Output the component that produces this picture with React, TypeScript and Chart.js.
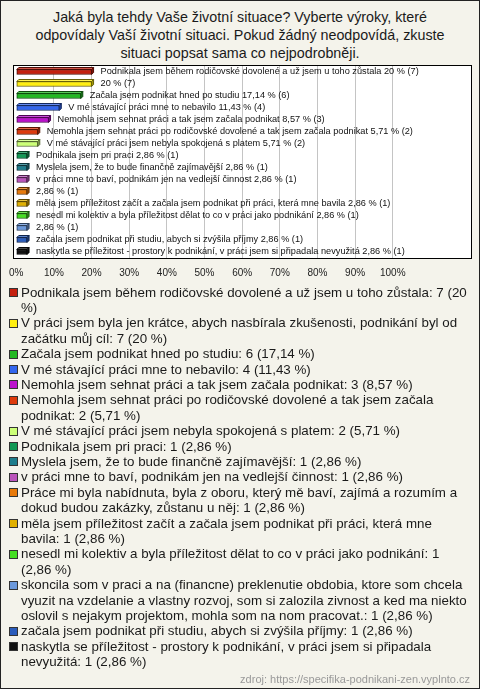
import React, { useEffect, useRef } from 'react';
import { Chart, registerables } from 'chart.js';

Chart.register(...registerables);

const titleLines = [
  'Jaká byla tehdy Vaše životní situace? Vyberte výroky, které',
  'odpovídaly Vaší životní situaci. Pokud žádný neodpovídá, zkuste',
  'situaci popsat sama co nejpodrobněji.',
];

const categories = [
  'Podnikala jsem během rodičovské dovolené a už jsem u toho zůstala',
  'V práci jsem byla jen krátce, abych nasbírala zkušenosti, podnikání byl od začátku můj cíl',
  'Začala jsem podnikat hned po studiu',
  'V mé stávající práci mne to nebavilo',
  'Nemohla jsem sehnat práci a tak jsem začala podnikat',
  'Nemohla jsem sehnat práci po rodičovské dovolené a tak jsem začala podnikat',
  'V mé stávající práci jsem nebyla spokojená s platem',
  'Podnikala jsem pri praci',
  'Myslela jsem, že to bude finančně zajímavější',
  'v práci mne to baví, podnikám jen na vedlejší činnost',
  'Práce mi byla nabídnuta, byla z oboru, který mě baví, zajímá a rozumím a dokud budou zakázky, zůstanu u něj',
  'měla jsem příležitost začít a začala jsem podnikat při práci, která mne bavila',
  'nesedl mi kolektiv a byla příležitost dělat to co v práci jako podnikání',
  'skoncila som v praci a na (financne) preklenutie obdobia, ktore som chcela vyuzit na vzdelanie a vlastny rozvoj, som si zalozila zivnost a ked ma niekto oslovil s nejakym projektom, mohla som na nom pracovat.',
  'začala jsem podnikat při studiu, abych si zvýšila příjmy',
  'naskytla se příležitost - prostory k podnikání, v práci jsem si připadala nevyužitá',
];

// names printed next to the bars (long ones are omitted in the original)
const barNames = [
  'Podnikala jsem během rodičovské dovolené a už jsem u toho zůstala',
  '',
  'Začala jsem podnikat hned po studiu',
  'V mé stávající práci mne to nebavilo',
  'Nemohla jsem sehnat práci a tak jsem začala podnikat',
  'Nemohla jsem sehnat práci po rodičovské dovolené a tak jsem začala podnikat',
  'V mé stávající práci jsem nebyla spokojená s platem',
  'Podnikala jsem pri praci',
  'Myslela jsem, že to bude finančně zajímavější',
  'v práci mne to baví, podnikám jen na vedlejší činnost',
  '',
  'měla jsem příležitost začít a začala jsem podnikat při práci, která mne bavila',
  'nesedl mi kolektiv a byla příležitost dělat to co v práci jako podnikání',
  '',
  'začala jsem podnikat při studiu, abych si zvýšila příjmy',
  'naskytla se příležitost - prostory k podnikání, v práci jsem si připadala nevyužitá',
];

const counts = [7, 7, 6, 4, 3, 2, 2, 1, 1, 1, 1, 1, 1, 1, 1, 1];
const percents = [20, 20, 17.14, 11.43, 8.57, 5.71, 5.71, 2.86, 2.86, 2.86, 2.86, 2.86, 2.86, 2.86, 2.86, 2.86];

const colors = [
  '#c4200e', '#ffee11', '#22b822', '#3366ee', '#bb11cc', '#dd3a0c', '#ccff77', '#129955',
  '#1e7d8c', '#bb55bb', '#e87a0a', '#e0b000', '#44dd22', '#6b98db', '#2a5cbb', '#111111',
];

const tickValues = [0, 10, 20, 30, 40, 50, 60, 70, 80, 90, 100];
const tickLabels = ['0%', '10%', '20%', '30%', '40%', '50%', '60%', '70%', '80%', '90%', '100%'];

const sourceText = 'zdroj: https://specifika-podnikani-zen.vyplnto.cz';

const FONT = '"Liberation Sans", Arial, sans-serif';

function fmt(v: number): string {
  return String(v).replace('.', ',');
}

function shade(hex: string, f: number): string {
  const n = parseInt(hex.slice(1), 16);
  let r = (n >> 16) & 255, g = (n >> 8) & 255, b = n & 255;
  if (f < 0) {
    r = Math.round(r * (1 + f)); g = Math.round(g * (1 + f)); b = Math.round(b * (1 + f));
  } else {
    r = Math.round(r + (255 - r) * f); g = Math.round(g + (255 - g) * f); b = Math.round(b + (255 - b) * f);
  }
  return `rgb(${r},${g},${b})`;
}

const boxPlugin = {
  id: 'boxPlugin',
  beforeDraw(chart: any) {
    const { ctx, chartArea: a } = chart;
    ctx.save();
    ctx.fillStyle = '#ffffff';
    ctx.fillRect(a.left, a.top, a.right - a.left, a.bottom - a.top);
    ctx.restore();
  },
  afterDraw(chart: any) {
    const { ctx, chartArea: a } = chart;
    ctx.save();
    ctx.strokeStyle = '#000000';
    ctx.lineWidth = 1;
    ctx.strokeRect(Math.round(a.left) - 0.5, Math.round(a.top) - 0.5, Math.round(a.right - a.left) + 1, Math.round(a.bottom - a.top) + 1);
    ctx.restore();
  },
};

const bar3dPlugin = {
  id: 'bar3dPlugin',
  afterDatasetsDraw(chart: any) {
    const meta = chart.getDatasetMeta(0);
    const ctx = chart.ctx;
    const d = 2;
    meta.data.forEach((el: any, i: number) => {
      const { x, y, base, height } = el.getProps(['x', 'y', 'base', 'height'], true);
      const top = y - height / 2;
      const bottom = y + height / 2;
      const c = colors[i];
      ctx.save();
      ctx.lineWidth = 1;
      ctx.strokeStyle = shade(c, -0.6);
      ctx.fillStyle = shade(c, 0.25);
      ctx.beginPath();
      ctx.moveTo(base, top);
      ctx.lineTo(base + d, top - d);
      ctx.lineTo(x + d, top - d);
      ctx.lineTo(x, top);
      ctx.closePath();
      ctx.fill();
      ctx.stroke();
      ctx.fillStyle = shade(c, -0.35);
      ctx.beginPath();
      ctx.moveTo(x, top);
      ctx.lineTo(x + d, top - d);
      ctx.lineTo(x + d, bottom - d);
      ctx.lineTo(x, bottom);
      ctx.closePath();
      ctx.fill();
      ctx.stroke();
      const name = barNames[i];
      const txt = (name ? name + ' ' : '') + fmt(percents[i]) + ' % (' + counts[i] + ')';
      ctx.fillStyle = '#111111';
      ctx.font = '9.2px ' + FONT;
      ctx.textAlign = 'left';
      ctx.textBaseline = 'middle';
      ctx.fillText(txt, x + 9, y - 1);
      ctx.restore();
    });
  },
};

function BarChart() {
  const ref = useRef<HTMLCanvasElement | null>(null);
  useEffect(() => {
    if (!ref.current) return;
    const chart = new Chart(ref.current, {
      type: 'bar',
      data: {
        labels: categories,
        datasets: [
          {
            data: percents,
            backgroundColor: colors,
            borderColor: colors.map((c) => shade(c, -0.6)),
            borderWidth: 1,
            borderSkipped: false,
            barThickness: 5,
          },
        ],
      },
      options: {
        indexAxis: 'y',
        animation: false,
        responsive: false,
        maintainAspectRatio: false,
        layout: { padding: { left: 10, right: 9, top: 66, bottom: 0 } },
        plugins: {
          legend: { display: false },
          tooltip: { enabled: false },
          title: { display: false },
        },
        scales: {
          y: { type: 'category', display: false, offset: true },
          x: {
            type: 'linear',
            position: 'bottom',
            min: -0.526,
            max: 120.79,
            afterBuildTicks: (s: any) => {
              s.ticks = tickValues.map((v) => ({ value: v }));
            },
            afterFit: (s: any) => {
              s.height = 32;
            },
            border: { display: false },
            grid: {
              drawTicks: false,
              lineWidth: 1,
              color: (c: any) => (c.tick && c.tick.value === 0 ? 'rgba(0,0,0,0)' : '#c4c4c4'),
            },
            ticks: {
              padding: 9,
              autoSkip: false,
              maxRotation: 0,
              color: '#222222',
              font: { family: FONT, size: 10 },
              callback: (v: any) => {
                const idx = tickValues.indexOf(Number(v));
                return idx >= 0 ? tickLabels[idx] : '';
              },
            },
          },
        },
      },
      plugins: [boxPlugin, bar3dPlugin],
    } as any);
    return () => chart.destroy();
  }, []);
  return (
    <canvas
      ref={ref}
      width={480}
      height={290}
      style={{ position: 'absolute', left: 0, top: 0, width: 480, height: 290 }}
    />
  );
}

export default function App() {
  useEffect(() => {
    document.body.style.margin = '0';
  }, []);
  return (
    <div
      style={{
        position: 'relative',
        width: 480,
        height: 689,
        background: '#f4f3eb',
        fontFamily: FONT,
        overflow: 'hidden',
      }}
    >
      <div
        style={{
          position: 'absolute',
          left: 0,
          top: 8,
          width: 480,
          textAlign: 'center',
          fontSize: 14.3,
          lineHeight: '18px',
          color: '#1a1a1a',
        }}
      >
        {titleLines.map((l, i) => (
          <div key={i}>{l}</div>
        ))}
      </div>
      <BarChart />
      <div style={{ position: 'absolute', left: 0, top: 284.5, width: 471 }}>
        {categories.map((c, i) => (
          <div
            key={i}
            style={{
              position: 'relative',
              paddingLeft: 21,
              fontSize: 13.35,
              lineHeight: '15.4px',
              color: '#1a1a1a',
            }}
          >
            <span
              style={{
                position: 'absolute',
                left: 9,
                top: 3.5,
                width: 7,
                height: 7,
                background: colors[i],
                border: '1px solid #333',
              }}
            />
            {c + ': ' + counts[i] + ' (' + fmt(percents[i]) + ' %)'}
          </div>
        ))}
      </div>
      <div
        style={{
          position: 'absolute',
          right: 10,
          top: 672,
          fontSize: 11,
          color: '#999',
          lineHeight: '14px',
        }}
      >
        {sourceText}
      </div>
      <div
        style={{
          position: 'absolute',
          left: 0,
          top: 0,
          width: 480,
          height: 689,
          boxSizing: 'border-box',
          border: '1px solid #222',
          pointerEvents: 'none',
        }}
      />
    </div>
  );
}
